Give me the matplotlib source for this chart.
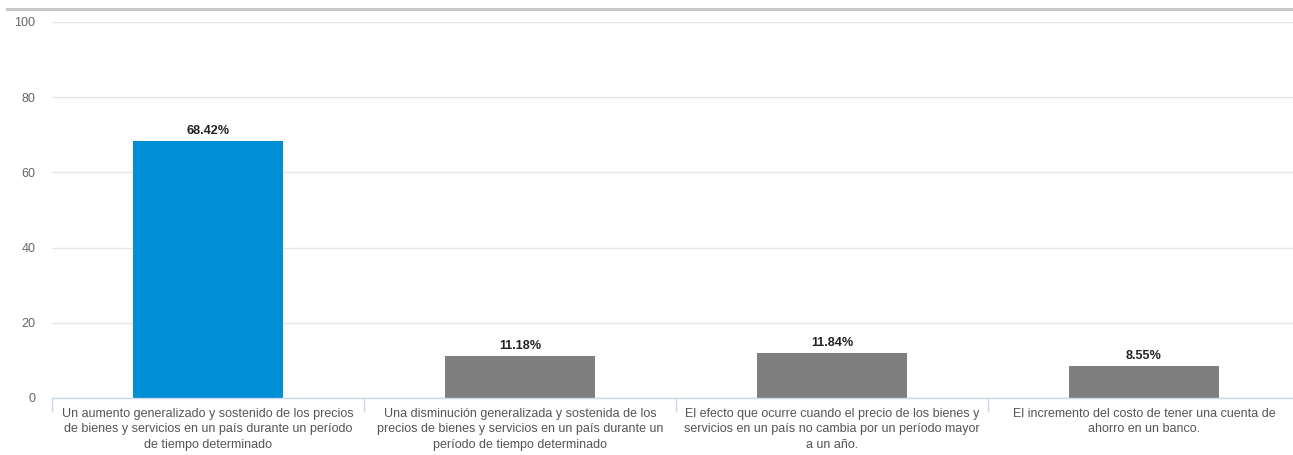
import matplotlib.pyplot as plt
from matplotlib.patches import Rectangle

categories = [
    "Un aumento generalizado y sostenido de los precios\nde bienes y servicios en un país durante un período\nde tiempo determinado",
    "Una disminución generalizada y sostenida de los\nprecios de bienes y servicios en un país durante un\nperíodo de tiempo determinado",
    "El efecto que ocurre cuando el precio de los bienes y\nservicios en un país no cambia por un período mayor\na un año.",
    "El incremento del costo de tener una cuenta de\nahorro en un banco.",
]
values = [68.42, 11.18, 11.84, 8.55]
colors = ["#008fd5", "#7f7f7f", "#7f7f7f", "#7f7f7f"]
yticks = [0, 20, 40, 60, 80, 100]

plt.rcParams["font.family"] = ["Liberation Sans", "DejaVu Sans"]

W, H = 1293, 455
fig = plt.figure(figsize=(W / 100, H / 100), dpi=100)
# axes spans pixel x 52..1300, y 22..398
ax = fig.add_axes([52 / W, (H - 398) / H, (1300 - 52) / W, (398 - 22) / H])

x = range(len(values))
bars = ax.bar(x, values, width=150 / 312, color=colors, zorder=2)
for b, v in zip(bars, values):
    ax.text(b.get_x() + b.get_width() / 2, v + 1.1, f"{v:.2f}%",
            ha="center", va="bottom", fontsize=9.1, fontweight="bold", color="#222222")

ax.set_xlim(-0.5, len(values) - 0.5)
ax.set_ylim(0, 100)
ax.set_yticks(yticks)
ax.set_yticklabels([str(t) for t in yticks], fontsize=9, color="#666666")
ax.grid(axis="y", color="#e6e6e6", linewidth=1, zorder=0)
ax.tick_params(axis="y", length=0, pad=12)

ax.set_xticks([i - 0.5 for i in range(len(values) + 1)], minor=True)
ax.tick_params(axis="x", which="minor", length=10, width=1, color="#ccd6eb", direction="out")
ax.set_xticks(list(x))
ax.set_xticklabels(categories, fontsize=9, color="#555555", linespacing=1.4)
ax.tick_params(axis="x", which="major", length=0, pad=7)

for s in ["top", "right", "left"]:
    ax.spines[s].set_visible(False)
ax.spines["bottom"].set_color("#ccd6eb")
ax.spines["bottom"].set_linewidth(1)

# thin gray strip along the top
fig.add_artist(Rectangle((6 / W, (H - 11) / H), 1 - 6 / W, 3 / H,
                         transform=fig.transFigure, color="#c8c8c8", linewidth=0))

fig.savefig("out.png", dpi=100)
